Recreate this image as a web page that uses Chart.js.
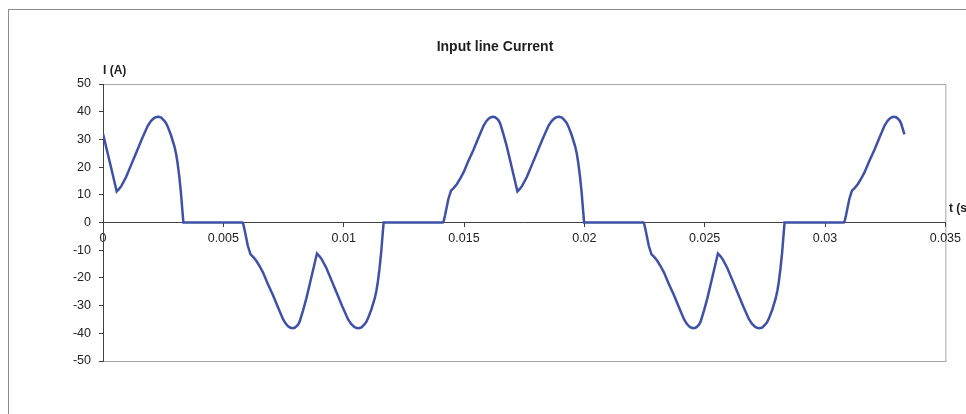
<!DOCTYPE html>
<html lang="en">
<head>
<meta charset="UTF-8">
<title>Input line Current</title>
<style>
    html, body {
        margin: 0;
        padding: 0;
        background: #fff;
        overflow: hidden;
    }

    #frame {
        position: absolute;
        left: 8px;
        top: 9px;
        width: 1000px;
        height: 600px;
        border: 1px solid #8c8c8c;
    }

    #chart {
        position: absolute;
        left: 0;
        top: 0;
    }
</style>
</head>
<body>
<div id="frame"></div>
<canvas id="chart" width="966" height="414"></canvas>

<script src="https://cdn.jsdelivr.net/npm/chart.js@4"></script>
<script>
    const chartTitle = 'Input line Current';
    const yTitle = 'I (A)';
    const xTitle = 't (s)';

    const xTicks = [0, 0.005, 0.01, 0.015, 0.02, 0.025, 0.03, 0.035];
    const yTicks = [-50, -40, -30, -20, -10, 0, 10, 20, 30, 40, 50];

    // time (s)
    const timeSec = [
        0, 0.00035, 0.00057, 0.00067, 0.00077, 0.00096, 0.00117, 0.00138, 0.00162, 0.00186,
        0.00199, 0.00212, 0.00222, 0.00231, 0.00242, 0.00252, 0.00261, 0.00269, 0.00283, 0.00297,
        0.00304, 0.00310, 0.00317, 0.00324, 0.00329, 0.00334,

        0.00579, 0.00583, 0.00588, 0.00595, 0.00602, 0.00613, 0.00624, 0.00637, 0.00651, 0.00665,
        0.00685, 0.00706, 0.00727, 0.00748, 0.00759, 0.00769, 0.00779, 0.00787, 0.00796, 0.00804,
        0.00811, 0.00817, 0.00831, 0.00845, 0.00867, 0.00889, 0.00899, 0.00909, 0.00928, 0.00949,
        0.00970, 0.00994, 0.01018, 0.01031, 0.01044, 0.01054, 0.01063, 0.01074, 0.01084, 0.01093,
        0.01101, 0.01115, 0.01129, 0.01136, 0.01142, 0.01149, 0.01156, 0.01161, 0.01166,

        0.01412, 0.01416, 0.01421, 0.01428, 0.01435, 0.01446, 0.01457, 0.01470, 0.01484, 0.01498,
        0.01518, 0.01539, 0.01560, 0.01581, 0.01592, 0.01602, 0.01612, 0.01620, 0.01629, 0.01637,
        0.01644, 0.01650, 0.01664, 0.01678, 0.01700, 0.01722, 0.01732, 0.01742, 0.01761, 0.01782,
        0.01803, 0.01827, 0.01851, 0.01864, 0.01877, 0.01887, 0.01896, 0.01907, 0.01917, 0.01926,
        0.01934, 0.01948, 0.01962, 0.01969, 0.01975, 0.01982, 0.01989, 0.01994, 0.01999,

        0.02245, 0.02249, 0.02254, 0.02261, 0.02268, 0.02279, 0.02290, 0.02303, 0.02317, 0.02331,
        0.02351, 0.02372, 0.02393, 0.02414, 0.02425, 0.02435, 0.02445, 0.02453, 0.02462, 0.02470,
        0.02477, 0.02483, 0.02497, 0.02511, 0.02533, 0.02555, 0.02565, 0.02575, 0.02594, 0.02615,
        0.02636, 0.02660, 0.02684, 0.02697, 0.02710, 0.02720, 0.02729, 0.02740, 0.02750, 0.02759,
        0.02767, 0.02781, 0.02795, 0.02802, 0.02808, 0.02815, 0.02822, 0.02827, 0.02832,

        0.03078, 0.03082, 0.03087, 0.03094, 0.03101, 0.03112, 0.03123, 0.03136, 0.03150, 0.03164,
        0.03184, 0.03205, 0.03226, 0.03247, 0.03258, 0.03268, 0.03278, 0.03286, 0.03295, 0.03303,
        0.03310, 0.03316, 0.03330
    ];

    // current (A)
    const currentA = [
        32, 19.3, 11.2, 12.1, 13.3, 16.4, 20.8, 25.2, 30.2, 34.9,
        36.6, 37.7, 38.1, 38.2, 37.9, 37.0, 36.0, 34.6, 31.4, 27.4,
        24.6, 21.4, 16.6, 10.6, 5.2, 0,

        0, -0.6, -2.5, -5.5, -8.5, -11.5, -12.4, -13.8, -15.8, -18.1,
        -22.2, -26.2, -30.6, -34.9, -36.5, -37.5, -38.0, -38.2, -38.0, -37.5,
        -36.8, -35.8, -31.8, -27.4, -19.3, -11.2, -12.1, -13.3, -16.4, -20.8,
        -25.2, -30.2, -34.9, -36.6, -37.7, -38.1, -38.2, -37.9, -37.0, -36.0,
        -34.6, -31.4, -27.4, -24.6, -21.4, -16.6, -10.6, -5.2, 0,

        0, 0.6, 2.5, 5.5, 8.5, 11.5, 12.4, 13.8, 15.8, 18.1,
        22.2, 26.2, 30.6, 34.9, 36.5, 37.5, 38.0, 38.2, 38.0, 37.5,
        36.8, 35.8, 31.8, 27.4, 19.3, 11.2, 12.1, 13.3, 16.4, 20.8,
        25.2, 30.2, 34.9, 36.6, 37.7, 38.1, 38.2, 37.9, 37.0, 36.0,
        34.6, 31.4, 27.4, 24.6, 21.4, 16.6, 10.6, 5.2, 0,

        0, -0.6, -2.5, -5.5, -8.5, -11.5, -12.4, -13.8, -15.8, -18.1,
        -22.2, -26.2, -30.6, -34.9, -36.5, -37.5, -38.0, -38.2, -38.0, -37.5,
        -36.8, -35.8, -31.8, -27.4, -19.3, -11.2, -12.1, -13.3, -16.4, -20.8,
        -25.2, -30.2, -34.9, -36.6, -37.7, -38.1, -38.2, -37.9, -37.0, -36.0,
        -34.6, -31.4, -27.4, -24.6, -21.4, -16.6, -10.6, -5.2, 0,

        0, 0.6, 2.5, 5.5, 8.5, 11.5, 12.4, 13.8, 15.8, 18.1,
        22.2, 26.2, 30.6, 34.9, 36.5, 37.5, 38.0, 38.2, 38.0, 37.5,
        36.8, 35.8, 31.8
    ];

    const FONT = '"Liberation Sans", Arial, sans-serif';

    // plot border, axis titles and chart title
    const frameText = {
        id: 'frameText',
        beforeDraw(chart) {
            const { ctx, chartArea: a } = chart;
            ctx.save();
            ctx.strokeStyle = '#a6a6a6';
            ctx.lineWidth = 1;
            ctx.strokeRect(a.left + 0.5, a.top + 0.5, a.right - a.left, a.bottom - a.top);
            ctx.restore();
        },
        afterDraw(chart) {
            const ctx = chart.ctx;
            ctx.save();
            ctx.fillStyle = '#1e1e1e';
            ctx.textBaseline = 'alphabetic';
            ctx.font = 'bold 14px ' + FONT;
            ctx.textAlign = 'center';
            ctx.fillText(chartTitle, 495, 51);
            ctx.font = 'bold 12px ' + FONT;
            ctx.textAlign = 'left';
            ctx.fillText(yTitle, 103, 74);
            ctx.fillText(xTitle, 949, 212);
            ctx.restore();
        }
    };

    const axisColor = '#404040';
    const tickFont = { family: FONT, size: 12.5 };

    new Chart(document.getElementById('chart'), {
        type: 'line',
        data: {
            datasets: [{
                data: timeSec.map((t, i) => ({ x: t, y: currentA[i] })),
                borderColor: '#3f51a5',
                borderWidth: 2.5,
                pointRadius: 0,
                tension: 0,
                fill: false
            }]
        },
        options: {
            responsive: false,
            animation: false,
            layout: { padding: { left: 0, top: 84, right: 20, bottom: 53 } },
            plugins: {
                legend: { display: false },
                tooltip: { enabled: false }
            },
            scales: {
                x: {
                    type: 'linear',
                    position: { y: 0 },
                    min: 0,
                    max: 0.035,
                    afterBuildTicks: s => { s.ticks = xTicks.map(v => ({ value: v })); },
                    afterFit: s => { s.height = 0; },
                    ticks: {
                        color: '#222',
                        font: tickFont,
                        padding: 5,
                        maxRotation: 0,
                        autoSkip: false,
                        callback: v => String(v)
                    },
                    grid: { drawOnChartArea: false, tickLength: 4, color: axisColor },
                    border: { color: axisColor, width: 1 }
                },
                y: {
                    min: -50,
                    max: 50,
                    afterBuildTicks: s => { s.ticks = yTicks.map(v => ({ value: v })); },
                    afterFit: s => { s.width = 103; },
                    ticks: {
                        color: '#222',
                        font: tickFont,
                        padding: 8,
                        autoSkip: false
                    },
                    grid: { drawOnChartArea: false, tickLength: 4, color: axisColor },
                    border: { color: axisColor, width: 1 }
                }
            }
        },
        plugins: [frameText]
    });
</script>
</body>
</html>
